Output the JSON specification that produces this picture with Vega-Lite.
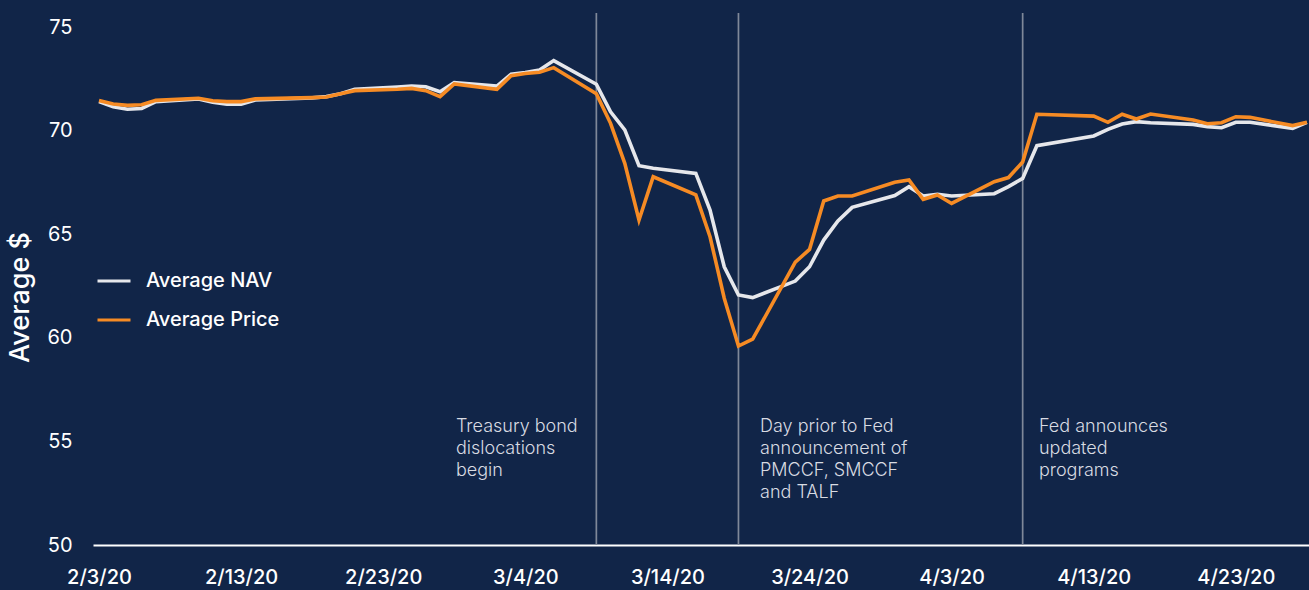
{
  "$schema": "https://vega.github.io/schema/vega-lite/v6.json",
  "width": 1216,
  "height": 532,
  "autosize": {"type": "none"},
  "padding": {"left": 93, "top": 13, "right": 0, "bottom": 45},
  "background": "#112548",
  "config": {
    "view": {"stroke": null},
    "font": "Inter"
  },
  "datasets": {
    "series": [
      {"date": "2020-02-03", "Average NAV": 71.42, "Average Price": 71.47},
      {"date": "2020-02-04", "Average NAV": 71.17, "Average Price": 71.30},
      {"date": "2020-02-05", "Average NAV": 71.05, "Average Price": 71.24},
      {"date": "2020-02-06", "Average NAV": 71.09, "Average Price": 71.27},
      {"date": "2020-02-07", "Average NAV": 71.42, "Average Price": 71.48},
      {"date": "2020-02-10", "Average NAV": 71.55, "Average Price": 71.58},
      {"date": "2020-02-11", "Average NAV": 71.39, "Average Price": 71.46},
      {"date": "2020-02-12", "Average NAV": 71.29, "Average Price": 71.42},
      {"date": "2020-02-13", "Average NAV": 71.30, "Average Price": 71.42},
      {"date": "2020-02-14", "Average NAV": 71.50, "Average Price": 71.55},
      {"date": "2020-02-18", "Average NAV": 71.60, "Average Price": 71.61},
      {"date": "2020-02-19", "Average NAV": 71.66, "Average Price": 71.64},
      {"date": "2020-02-20", "Average NAV": 71.80, "Average Price": 71.80},
      {"date": "2020-02-21", "Average NAV": 72.01, "Average Price": 71.95},
      {"date": "2020-02-24", "Average NAV": 72.12, "Average Price": 72.02},
      {"date": "2020-02-25", "Average NAV": 72.17, "Average Price": 72.06},
      {"date": "2020-02-26", "Average NAV": 72.14, "Average Price": 71.95},
      {"date": "2020-02-27", "Average NAV": 71.90, "Average Price": 71.66},
      {"date": "2020-02-28", "Average NAV": 72.34, "Average Price": 72.27},
      {"date": "2020-03-02", "Average NAV": 72.17, "Average Price": 72.01},
      {"date": "2020-03-03", "Average NAV": 72.74, "Average Price": 72.67},
      {"date": "2020-03-04", "Average NAV": 72.83, "Average Price": 72.78},
      {"date": "2020-03-05", "Average NAV": 72.95, "Average Price": 72.84},
      {"date": "2020-03-06", "Average NAV": 73.40, "Average Price": 73.06},
      {"date": "2020-03-09", "Average NAV": 72.26, "Average Price": 71.80},
      {"date": "2020-03-10", "Average NAV": 70.93, "Average Price": 70.37},
      {"date": "2020-03-11", "Average NAV": 70.05, "Average Price": 68.44},
      {"date": "2020-03-12", "Average NAV": 68.32, "Average Price": 65.70},
      {"date": "2020-03-13", "Average NAV": 68.20, "Average Price": 67.79},
      {"date": "2020-03-16", "Average NAV": 67.95, "Average Price": 66.91},
      {"date": "2020-03-17", "Average NAV": 66.18, "Average Price": 64.89},
      {"date": "2020-03-18", "Average NAV": 63.44, "Average Price": 61.92},
      {"date": "2020-03-19", "Average NAV": 62.08, "Average Price": 59.61},
      {"date": "2020-03-20", "Average NAV": 61.95, "Average Price": 59.94},
      {"date": "2020-03-23", "Average NAV": 62.75, "Average Price": 63.66},
      {"date": "2020-03-24", "Average NAV": 63.44, "Average Price": 64.28},
      {"date": "2020-03-25", "Average NAV": 64.73, "Average Price": 66.62},
      {"date": "2020-03-26", "Average NAV": 65.65, "Average Price": 66.86},
      {"date": "2020-03-27", "Average NAV": 66.31, "Average Price": 66.86},
      {"date": "2020-03-30", "Average NAV": 66.88, "Average Price": 67.52},
      {"date": "2020-03-31", "Average NAV": 67.31, "Average Price": 67.63},
      {"date": "2020-04-01", "Average NAV": 66.86, "Average Price": 66.70},
      {"date": "2020-04-02", "Average NAV": 66.94, "Average Price": 66.91},
      {"date": "2020-04-03", "Average NAV": 66.86, "Average Price": 66.50},
      {"date": "2020-04-06", "Average NAV": 66.97, "Average Price": 67.55},
      {"date": "2020-04-07", "Average NAV": 67.31, "Average Price": 67.75},
      {"date": "2020-04-08", "Average NAV": 67.71, "Average Price": 68.50},
      {"date": "2020-04-09", "Average NAV": 69.29, "Average Price": 70.81},
      {"date": "2020-04-13", "Average NAV": 69.76, "Average Price": 70.72},
      {"date": "2020-04-14", "Average NAV": 70.08, "Average Price": 70.42},
      {"date": "2020-04-15", "Average NAV": 70.34, "Average Price": 70.81},
      {"date": "2020-04-16", "Average NAV": 70.45, "Average Price": 70.58},
      {"date": "2020-04-17", "Average NAV": 70.40, "Average Price": 70.82},
      {"date": "2020-04-20", "Average NAV": 70.32, "Average Price": 70.53},
      {"date": "2020-04-21", "Average NAV": 70.21, "Average Price": 70.35},
      {"date": "2020-04-22", "Average NAV": 70.16, "Average Price": 70.40},
      {"date": "2020-04-23", "Average NAV": 70.42, "Average Price": 70.69},
      {"date": "2020-04-24", "Average NAV": 70.42, "Average Price": 70.66},
      {"date": "2020-04-27", "Average NAV": 70.13, "Average Price": 70.26},
      {"date": "2020-04-28", "Average NAV": 70.42, "Average Price": 70.42}
    ],
    "events": [
      {"date": "2020-03-09"},
      {"date": "2020-03-19"},
      {"date": "2020-04-08"}
    ],
    "notes": [
      {"date": "2020-02-28T02:50:00Z", "value": 55.47, "label": ["Treasury bond", "dislocations", "begin"]},
      {"date": "2020-03-20T12:30:00Z", "value": 55.47, "label": ["Day prior to Fed", "announcement of", "PMCCF, SMCCF", "and TALF"]},
      {"date": "2020-04-09T03:30:00Z", "value": 55.47, "label": ["Fed announces", "updated", "programs"]}
    ]
  },
  "encoding": {
    "x": {
      "field": "date",
      "type": "temporal",
      "scale": {
        "type": "utc",
        "domain": [
          {"year": 2020, "month": 2, "date": 2, "hours": 13, "minutes": 52, "utc": true},
          {"year": 2020, "month": 4, "date": 28, "hours": 3, "minutes": 36, "utc": true}
        ]
      },
      "axis": {
        "title": null,
        "format": "%-m/%-d/%y",
        "values": [
          {"year": 2020, "month": 2, "date": 3, "utc": true},
          {"year": 2020, "month": 2, "date": 13, "utc": true},
          {"year": 2020, "month": 2, "date": 23, "utc": true},
          {"year": 2020, "month": 3, "date": 4, "utc": true},
          {"year": 2020, "month": 3, "date": 14, "utc": true},
          {"year": 2020, "month": 3, "date": 24, "utc": true},
          {"year": 2020, "month": 4, "date": 3, "utc": true},
          {"year": 2020, "month": 4, "date": 13, "utc": true},
          {"year": 2020, "month": 4, "date": 23, "utc": true}
        ],
        "grid": false,
        "ticks": false,
        "domain": true,
        "domainColor": "#ffffff",
        "domainWidth": 2,
        "labelColor": "#ffffff",
        "labelFont": "Inter",
        "labelFontSize": 20,
        "labelFontWeight": 500,
        "labelPadding": 22,
        "labelOverlap": false,
        "labelFlush": false
      }
    }
  },
  "layer": [
    {
      "data": {"name": "events"},
      "mark": {"type": "rule", "color": "#7f8899", "strokeWidth": 1.7},
      "encoding": {}
    },
    {
      "data": {"name": "series"},
      "transform": [
        {"fold": ["Average NAV", "Average Price"], "as": ["series", "value"]}
      ],
      "mark": {"type": "line", "strokeWidth": 3.6, "strokeJoin": "miter", "strokeCap": "butt"},
      "encoding": {
        "y": {
          "field": "value",
          "type": "quantitative",
          "scale": {"domain": [50, 75.7], "nice": false, "zero": false},
          "axis": {
            "title": "Average $",
            "titleColor": "#ffffff",
            "titleFont": "Inter",
            "titleFontSize": 27,
            "titleFontWeight": 500,
            "titleAngle": -90,
            "titleAlign": "center",
            "titleBaseline": "middle",
            "titleX": -73,
            "titleY": 284,
            "values": [50, 55, 60, 65, 70, 75],
            "grid": false,
            "ticks": false,
            "domain": false,
            "labelColor": "#ffffff",
            "labelFont": "Inter",
            "labelFontSize": 20,
            "labelFontWeight": 400,
            "labelPadding": 21
          }
        },
        "color": {
          "field": "series",
          "type": "nominal",
          "scale": {"domain": ["Average NAV", "Average Price"], "range": ["#e6e7eb", "#f68b24"]},
          "legend": {
            "title": null,
            "orient": "none",
            "legendX": 3,
            "legendY": 250,
            "symbolType": "stroke",
            "symbolSize": 1089,
            "symbolStrokeWidth": 3,
            "labelColor": "#ffffff",
            "labelFont": "Inter",
            "labelFontSize": 20,
            "labelFontWeight": 500,
            "labelOffset": 14,
            "rowPadding": 11
          }
        }
      }
    },
    {
      "data": {"name": "notes"},
      "mark": {"type": "text", "align": "left", "baseline": "alphabetic", "lineHeight": 22, "fontSize": 18, "fontWeight": 300, "font": "Inter", "color": "#d8dbe2"},
      "encoding": {
        "y": {"field": "value", "type": "quantitative"},
        "text": {"field": "label"}
      }
    }
  ]
}
